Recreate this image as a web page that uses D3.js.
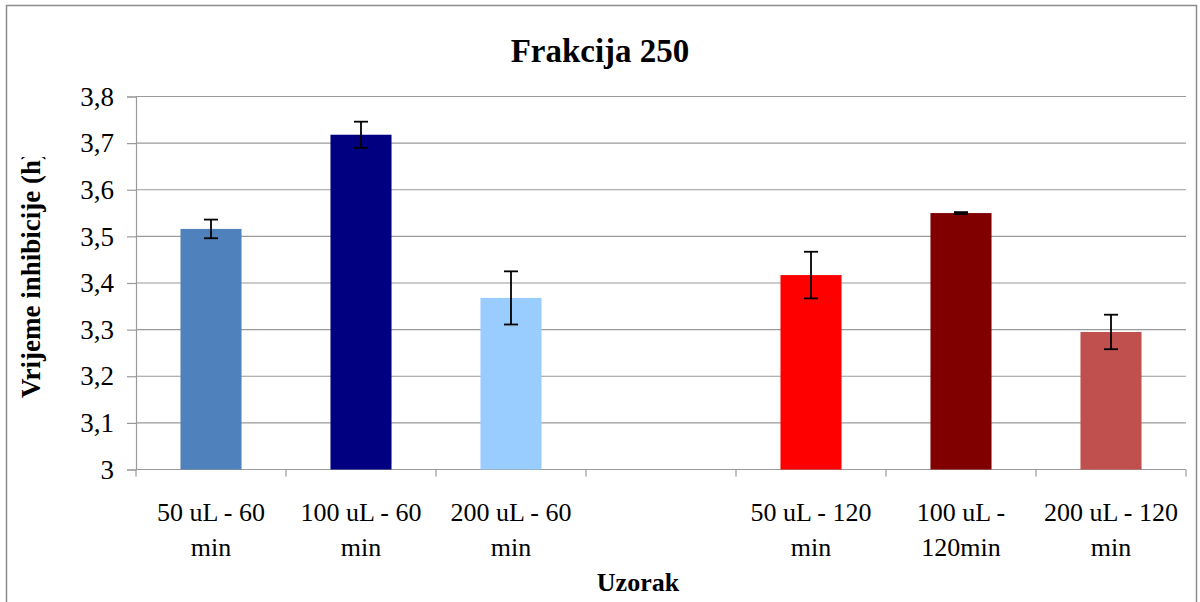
<!doctype html>
<html>
<head>
<meta charset="utf-8"/>
<script src="https://cdn.jsdelivr.net/npm/d3@7"></script>
<style>
body{margin:0;background:#fff;}
text{font-family:"Liberation Serif","Times New Roman",serif;fill:#000;}
</style>
</head>
<body>
<script>
// data
var categories = ["50 uL - 60 min", "100 uL - 60 min", "200 uL - 60 min", "", "50 uL - 120 min", "100 uL - 120min", "200 uL - 120 min"];
var labelLines = [["50 uL - 60", "min"], ["100 uL - 60", "min"], ["200 uL - 60", "min"], [], ["50 uL - 120", "min"], ["100 uL -", "120min"], ["200 uL - 120", "min"]];
var values = [3.516, 3.718, 3.368, null, 3.417, 3.550, 3.295];
var errors = [0.020, 0.028, 0.057, null, 0.050, 0.002, 0.037];
var barColors = ["#4f81bd", "#000080", "#99ccff", "none", "#ff0000", "#800000", "#c0504d"];
var yTicks = [3, 3.1, 3.2, 3.3, 3.4, 3.5, 3.6, 3.7, 3.8];

var width = 1200, height = 602;
var pLeft = 136, pRight = 1186, pTop = 96.5, pBottom = 469.5;

var svg = d3.select("body").append("svg").attr("width", width).attr("height", height);

// outer chart border
svg.append("rect").attr("x", 6.5).attr("y", 5.5).attr("width", 1190).attr("height", 620)
  .attr("fill", "none").attr("stroke", "#8c8c8c").attr("stroke-width", 1.5);

var x = d3.scaleBand().domain(d3.range(categories.length)).range([pLeft, pRight]).padding(0);
var y = d3.scaleLinear().domain([3, 3.8]).range([pBottom, pTop]);
var fmt = function(d){ return d3.format(".1f")(d).replace(".", ",").replace(",0", ""); };

// gridlines
svg.append("g").selectAll("line").data(yTicks.slice(1)).enter().append("line")
  .attr("x1", pLeft).attr("x2", pRight)
  .attr("y1", function(d){ return y(d); }).attr("y2", function(d){ return y(d); })
  .attr("stroke", "#9a9a9a").attr("stroke-width", 1.2);

// y axis
var yAxis = svg.append("g").attr("transform", "translate(" + pLeft + ",0)")
  .call(d3.axisLeft(y).tickValues(yTicks).tickFormat(fmt).tickSize(9).tickPadding(13));
yAxis.select(".domain").attr("stroke", "#9a9a9a").attr("stroke-width", 1.2);
yAxis.selectAll(".tick line").attr("stroke", "#9a9a9a").attr("stroke-width", 1.2);
yAxis.selectAll("text").attr("font-size", 27).attr("font-family", "Liberation Serif").attr("fill", "#000");

// x axis line and ticks at slot boundaries
svg.append("line").attr("x1", pLeft).attr("x2", pRight).attr("y1", pBottom).attr("y2", pBottom)
  .attr("stroke", "#9a9a9a").attr("stroke-width", 1.2);
var bounds = d3.range(categories.length + 1).map(function(i){ return pLeft + i * x.step(); });
svg.append("g").selectAll("line").data(bounds).enter().append("line")
  .attr("x1", function(d){ return d; }).attr("x2", function(d){ return d; })
  .attr("y1", pBottom).attr("y2", pBottom + 7)
  .attr("stroke", "#9a9a9a").attr("stroke-width", 1.2);

// category labels
var lab = svg.append("g").selectAll("text").data(labelLines).enter().append("text")
  .attr("text-anchor", "middle").attr("font-size", 26)
  .attr("x", function(d, i){ return x(i) + x.bandwidth() / 2; })
  .attr("y", 521);
lab.selectAll("tspan").data(function(d){ return d; }).enter().append("tspan")
  .attr("x", function(){ return d3.select(this.parentNode).attr("x"); })
  .attr("dy", function(d, i){ return i ? 35 : 0; })
  .text(function(d){ return d; });

// bars
var barW = x.bandwidth() * 0.407;
var data = values.map(function(v, i){ return {v: v, e: errors[i], c: barColors[i], i: i}; })
  .filter(function(d){ return d.v != null; });
svg.append("g").selectAll("rect").data(data).enter().append("rect")
  .attr("x", function(d){ return x(d.i) + (x.bandwidth() - barW) / 2; })
  .attr("width", barW)
  .attr("y", function(d){ return y(d.v); })
  .attr("height", function(d){ return y(3) - y(d.v); })
  .attr("fill", function(d){ return d.c; });

// error bars
var eb = svg.append("g").attr("stroke", "#000").attr("stroke-width", 1.8);
data.forEach(function(d){
  var cx = x(d.i) + x.bandwidth() / 2;
  eb.append("line").attr("x1", cx).attr("x2", cx).attr("y1", y(d.v + d.e)).attr("y2", y(d.v - d.e));
  [d.v + d.e, d.v - d.e].forEach(function(t){
    eb.append("line").attr("x1", cx - 7).attr("x2", cx + 7).attr("y1", y(t)).attr("y2", y(t));
  });
});

// titles
svg.append("text").attr("x", 600).attr("y", 62).attr("text-anchor", "middle")
  .attr("font-size", 33).attr("font-weight", "bold").text("Frakcija 250");
svg.append("text").attr("x", 638).attr("y", 591).attr("text-anchor", "middle")
  .attr("font-size", 26).attr("font-weight", "bold").text("Uzorak");

// y title, cut at the top like the original
svg.append("clipPath").attr("id", "yclip").append("rect")
  .attr("x", 0).attr("y", 157).attr("width", 80).attr("height", 300);
svg.append("g").attr("clip-path", "url(#yclip)").append("text")
  .attr("transform", "translate(40,398) rotate(-90)")
  .attr("font-size", 27).attr("font-weight", "bold").text("Vrijeme inhibicije (h)");
</script>
</body>
</html>
